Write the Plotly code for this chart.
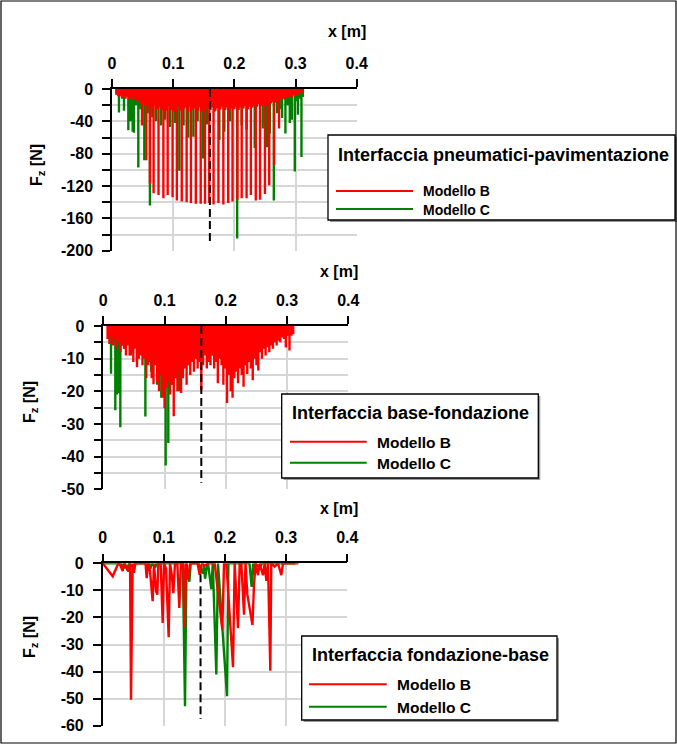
import plotly.graph_objects as go

W, H = 677, 744
FONT = "Liberation Sans, Arial, sans-serif"
RED = "#ff0000"
GREEN = "#008000"

# ---------------- data ----------------
x_ticks = [0, 0.1, 0.2, 0.3, 0.4]
x_ticktext = ["0", "0.1", "0.2", "0.3", "0.4"]

# Panel 1: Interfaccia pneumatici-pavimentazione (nodal forces, vertical spikes)
x_B1 = [0.007, 0.010, 0.013, 0.016, 0.019, 0.022, 0.025, 0.028, 0.031, 0.034, 0.037, 0.040, 0.043, 0.046,
        0.049, 0.051, 0.054, 0.056, 0.058, 0.060, 0.062, 0.064, 0.066, 0.068, 0.071, 0.073,
        0.076, 0.079, 0.081, 0.084, 0.086, 0.088, 0.091, 0.094, 0.096, 0.099, 0.101, 0.103,
        0.106, 0.109, 0.111, 0.114, 0.117, 0.119, 0.122, 0.124, 0.126, 0.129, 0.132, 0.134,
        0.137, 0.140, 0.142, 0.145, 0.147, 0.149, 0.152, 0.154, 0.157, 0.159, 0.161, 0.164,
        0.166, 0.169, 0.171, 0.174, 0.177, 0.179, 0.182, 0.185, 0.187, 0.190, 0.192, 0.195,
        0.197, 0.200, 0.202, 0.205, 0.207, 0.210, 0.212, 0.215, 0.217, 0.220, 0.222, 0.225,
        0.227, 0.230, 0.232, 0.235, 0.237, 0.240, 0.242, 0.245, 0.247, 0.250, 0.252, 0.255,
        0.257, 0.260, 0.262, 0.265, 0.267, 0.270,
        0.273, 0.276, 0.279, 0.282, 0.285, 0.288, 0.291, 0.294, 0.297, 0.300, 0.303, 0.306, 0.309, 0.312]
Fz_B1 = [-7, -9, -8, -10, -9, -12, -10, -13, -11, -14, -12, -16, -14, -18,
         -45, -17, -20, -88, -19, -22, -117, -21, -24, -129, -20, -25,
         -131, -22, -26, -135, -23, -27, -131, -21, -26, -134, -24, -28,
         -138, -22, -27, -139, -25, -23, -140, -28, -22, -141, -26, -24,
         -142, -27, -23, -142, -25, -28, -142, -24, -22, -141, -26, -23,
         -143, -27, -24, -141, -25, -22, -143, -26, -23, -141, -27, -24,
         -139, -25, -22, -137, -26, -23, -135, -24, -21, -135, -25, -22,
         -131, -23, -20, -138, -22, -19, -137, -21, -18, -130, -20, -17,
         -119, -18, -16, -94, -17, -15,
         -49, -14, -12, -13, -10, -11, -9, -10, -8, -7, -8, -6, -5, -4]
x_C1 = [0.008, 0.0114, 0.014, 0.0165, 0.0196, 0.023, 0.0267, 0.0305, 0.0338, 0.0359, 0.039, 0.043,
        0.047, 0.0528, 0.058, 0.062, 0.066, 0.072, 0.080, 0.087, 0.0947, 0.103, 0.110, 0.117,
        0.1247, 0.133, 0.140, 0.149, 0.155, 0.1676, 0.1755, 0.1836, 0.193, 0.2046, 0.212, 0.220,
        0.2333, 0.2464, 0.2534, 0.258, 0.2645, 0.270, 0.274, 0.278, 0.2835, 0.287, 0.2906, 0.294,
        0.2988, 0.302, 0.304, 0.307, 0.3097, 0.312]
Fz_C1 = [-5, -29, -8, -12, -27, -10, -51, -40, -53, -54, -20, -97,
         -25, -88, -30, -144, -35, -40, -45, -38, -47, -42, -101, -45,
         -60, -59, -40, -86, -44, -28, -63, -53, -40, -185, -45, -50,
         -73, -49, -72, -55, -138, -30, -25, -36, -55, -20, -42, -38,
         -102, -15, -32, -12, -84, -10]

# Panel 2: Interfaccia base-fondazione
x_B2 = [0.007, 0.010, 0.013, 0.016, 0.019, 0.022, 0.025, 0.028, 0.031, 0.034, 0.037, 0.040, 0.043,
        0.046, 0.049, 0.052, 0.055, 0.058, 0.061, 0.064, 0.067, 0.070, 0.073, 0.076, 0.079, 0.082,
        0.085, 0.088, 0.091, 0.094, 0.097, 0.100, 0.103, 0.106, 0.109, 0.112, 0.115, 0.118, 0.121,
        0.124, 0.127, 0.130, 0.133, 0.136, 0.139, 0.142, 0.145, 0.148, 0.151, 0.154, 0.157, 0.160,
        0.163, 0.166, 0.169, 0.172, 0.175, 0.178, 0.181, 0.184, 0.187, 0.190, 0.193, 0.196, 0.199,
        0.202, 0.205, 0.208, 0.211, 0.214, 0.217, 0.220, 0.223, 0.226, 0.229, 0.232, 0.235, 0.238,
        0.241, 0.244, 0.247, 0.250, 0.253, 0.256, 0.259, 0.262, 0.265, 0.268, 0.271, 0.274, 0.277,
        0.280, 0.283, 0.286, 0.289, 0.292, 0.295, 0.298, 0.301, 0.304, 0.307, 0.310]
Fz_B2 = [-4, -5.5, -3, -6, -4, -7, -5, -8, -6, -7, -9, -6, -9,
         -8, -11, -7, -12.6, -10, -9, -12, -10, -16, -12, -11, -16, -17.8,
         -12, -17, -20, -15, -22, -25.2, -19, -17, -21, -18, -27.6, -16, -20,
         -14, -20.5, -16, -13, -18, -12, -15, -11, -14, -10, -13, -11, -19.7,
         -12, -9, -13, -11, -12, -9, -13, -11, -17.5, -10, -12, -18, -13,
         -23.6, -15, -20, -22, -16, -14, -17.5, -13, -15, -18.6, -12, -14.7, -11,
         -13, -16.6, -10, -12, -13.6, -8, -10, -7, -9, -6.5, -8, -6, -7,
         -5, -6, -4.5, -5, -3.5, -4, -6.6, -3, -7.5, -3, -2.5]
x_C2 = [0.009, 0.0126, 0.016, 0.0196, 0.0225, 0.0245, 0.0278, 0.031, 0.035, 0.045, 0.055, 0.0687,
        0.078, 0.088, 0.0947, 0.1018, 0.1061, 0.113, 0.1236, 0.130, 0.140, 0.150, 0.165, 0.180,
        0.200, 0.220, 0.250, 0.280, 0.300]
Fz_C2 = [-3, -14.6, -5, -25.8, -21, -20.5, -31, -6, -7, -9, -11, -27.7,
         -14, -18, -22, -42.7, -35.8, -18, -20, -15, -12, -10, -8, -9,
         -12, -10, -7, -4, -3]

# Panel 3: Interfaccia fondazione-base (nodal values joined by lines)
x_B3 = [0.000, 0.0164, 0.0256, 0.0290, 0.0327, 0.0349, 0.0380, 0.0420, 0.0447, 0.0463, 0.0490,
        0.0512, 0.0534, 0.0700, 0.0719, 0.0746, 0.0770, 0.0801, 0.0817, 0.0839, 0.0872, 0.0893,
        0.0910, 0.0948, 0.0981, 0.1003, 0.1036, 0.1079, 0.1100, 0.1128, 0.1155, 0.1182, 0.1220,
        0.1253, 0.1280, 0.1318, 0.1340, 0.1362, 0.1400, 0.1428, 0.1550, 0.1586, 0.1624, 0.1668,
        0.1720, 0.1831, 0.1956, 0.1984, 0.2022, 0.2131, 0.2158, 0.2213, 0.2240, 0.2267, 0.2311,
        0.2335, 0.2365, 0.2449, 0.2474, 0.2500, 0.2540, 0.2567, 0.2621, 0.2649, 0.2676, 0.2703,
        0.2741, 0.2757, 0.2812, 0.2867, 0.2921, 0.2948, 0.3200]
Fz_B3 = [0, -4.8, 0, -0.8, -2.9, 0, -1.2, -3.0, 0, -50.4, 0,
         -3.5, 0, 0, -5.5, 0, -2.0, -8.5, -14.0, 0, -10.3, -11.6,
         0, 0, -22.0, 0, -2.0, -27.3, 0, -4.0, -11.0, 0, 0,
         -16.5, 0, 0, -23.9, 0, -6.0, 0, 0, -4.2, 0, -0.8,
         0, 0, -24.5, 0, 0, -38.4, 0, -24.0, 0, 0, -19.0,
         0, -11.5, -22.8, -8.0, 0, -4.4, 0, -4.4, 0, -6.5, 0,
         -39.7, 0, -1.2, 0, -4.4, 0, 0]
x_C3 = [0.000, 0.0300, 0.0340, 0.0365, 0.0400, 0.0430, 0.0500, 0.0530, 0.0750, 0.0780, 0.0800,
        0.0860, 0.0880, 0.1310, 0.1346, 0.1370, 0.1417, 0.1440, 0.1570, 0.1600, 0.1636, 0.1655,
        0.1674, 0.1700, 0.1722, 0.1776, 0.1800, 0.1858, 0.1885, 0.2033, 0.2055, 0.2400, 0.2436,
        0.2460, 0.2480, 0.2500, 0.2580, 0.2600, 0.3150]
Fz_C3 = [0, 0, -2.0, 0, -2.5, 0, -1.5, 0, 0, -2.0, 0,
         -1.5, 0, 0, -52.8, 0, -6.8, 0, 0, -2.0, -3.8, -1.0,
         -5.7, -1.5, 0, -9.5, 0, -41.1, 0, -49.1, 0, 0, -8.7,
         0, -4.4, 0, -2.0, 0, 0]

# centre line of the load (dashed)
x_centre = 0.16
centre_top = [0, 0, -4]
centre_bottom = [-192, -48, -57.5]

# axes ranges and ticks
y_ranges = [[-200, 0], [-50, 0], [-60, 0]]
y_tickvals = [[0, -40, -80, -120, -160, -200],
              [0, -10, -20, -30, -40, -50],
              [0, -10, -20, -30, -40, -50, -60]]
y_ticktext = [["0", "-40", "-80", "-120", "-160", "-200"],
              ["0", "-10", "-20", "-30", "-40", "-50"],
              ["0", "-10", "-20", "-30", "-40", "-50", "-60"]]
y_minor_step = [20, 5, None]

legend_titles = ["Interfaccia pneumatici-pavimentazione",
                 "Interfaccia base-fondazione",
                 "Interfaccia fondazione-base"]
series_names = ["Modello B", "Modello C"]

# ---------------- layout geometry (pixels) ----------------
panels_px = [  # left, right, top, bottom of plot area
    (112.0, 356.7, 89.0, 250.7),
    (103.3, 348.3, 326.0, 489.3),
    (102.7, 347.3, 563.3, 725.7),
]


def px_x(x):
    return x / W


def px_y(y):
    return 1 - y / H


def comb(xs, ds):
    """Nodal force spikes drawn from zero to the nodal value."""
    X, Y = [], []
    for x, d in zip(xs, ds):
        X += [x, x, x]
        Y += [0, d, 0]
    return X, Y


fig = go.Figure()

series = [
    ((x_B1, Fz_B1, True), (x_C1, Fz_C1, True)),
    ((x_B2, Fz_B2, True), (x_C2, Fz_C2, True)),
    ((x_B3, Fz_B3, False), (x_C3, Fz_C3, False)),
]

for i, (sB, sC) in enumerate(series):
    xa = "x" if i == 0 else f"x{i+1}"
    ya = "y" if i == 0 else f"y{i+1}"
    # Modello C (green) below, Modello B (red) on top
    for (xs, ds, spikes), col, name in ((sC, GREEN, series_names[1]), (sB, RED, series_names[0])):
        if spikes:
            X, Y = comb(xs, ds)
        else:
            X, Y = xs, ds
        fig.add_trace(go.Scatter(x=X, y=Y, mode="lines", name=name, showlegend=False,
                                 line=dict(color=col, width=2.4), xaxis=xa, yaxis=ya,
                                 hoverinfo="skip"))
    fig.add_trace(go.Scatter(x=[x_centre, x_centre], y=[centre_top[i], centre_bottom[i]],
                             mode="lines", showlegend=False,
                             line=dict(color="black", width=2, dash="8px,4px"),
                             xaxis=xa, yaxis=ya, hoverinfo="skip"))

tickfont = dict(family=FONT, size=16, color="black", weight="bold")
layout = dict(width=W, height=H, margin=dict(l=0, r=0, t=0, b=0, autoexpand=False),
              paper_bgcolor="white", plot_bgcolor="white", showlegend=False)

GRID = "#d6d6d6"
for i, (l, r, t, b) in enumerate(panels_px):
    xk = "xaxis" if i == 0 else f"xaxis{i+1}"
    yk = "yaxis" if i == 0 else f"yaxis{i+1}"
    ya = "y" if i == 0 else f"y{i+1}"
    xa = "x" if i == 0 else f"x{i+1}"
    layout[xk] = dict(domain=[px_x(l), px_x(r)], anchor=ya, side="top", range=[0, 0.4],
                      tickvals=x_ticks, ticktext=x_ticktext, ticks="outside", ticklen=8,
                      tickwidth=1.5, tickcolor="black", showline=True, linecolor="black",
                      linewidth=1.5, showgrid=True, gridcolor=GRID, gridwidth=1.5,
                      zeroline=False, tickfont=tickfont, ticklabelstandoff=4, fixedrange=True,
                      automargin=False)
    yd = dict(domain=[px_y(b), px_y(t)], anchor=xa, range=y_ranges[i],
              tickvals=y_tickvals[i], ticktext=y_ticktext[i], ticks="outside", ticklen=8,
              tickwidth=1.5, tickcolor="black", showline=True, linecolor="black",
              linewidth=1.5, showgrid=True, gridcolor=GRID, gridwidth=1.5,
              zeroline=False, tickfont=tickfont, ticklabelstandoff=6, fixedrange=True,
              automargin=False)
    if y_minor_step[i]:
        yd["minor"] = dict(dtick=y_minor_step[i], tick0=0, ticks="outside", ticklen=8,
                           tickwidth=1.5, tickcolor="black", showgrid=True, gridcolor=GRID,
                           gridwidth=1.5)
    layout[yk] = yd

fig.update_layout(**layout)

annotations = []
shapes = []
bold = dict(family=FONT, color="black", weight="bold")

# axis titles
xtitle_pos = [(347, 32), (338.5, 271.7), (338.5, 509)]
ytitle_pos = [(37, 165), (30, 402), (30, 637)]
for (ax_, ay_), (bx, by) in zip(xtitle_pos, ytitle_pos):
    annotations.append(dict(x=px_x(ax_), y=px_y(ay_), xref="paper", yref="paper", text="x [m]",
                            showarrow=False, xanchor="center", yanchor="middle",
                            font=dict(size=16, **bold)))
    annotations.append(dict(x=px_x(bx), y=px_y(by), xref="paper", yref="paper",
                            text="F<sub>z</sub> [N]", textangle=-90, showarrow=False,
                            xanchor="center", yanchor="middle", font=dict(size=16, **bold)))

# legend boxes (drawn by hand)
legends_px = [
    # box l, t, r, b, title x, title y, line x0, x1, y_B, y_C, text x, item font size
    (328, 135, 675, 220, 336, 155, 336, 413, 191.0, 209.0, 421.7, 14),
    (281.7, 394, 538.3, 478, 290, 413, 290, 366.7, 441.7, 462.7, 376, 15.5),
    (301.7, 636, 557, 720, 310, 655, 309, 386.7, 684.3, 706.7, 396, 15.5),
]
for k, (bl, bt, br, bb, tx, ty, lx0, lx1, yb, yc, txt, fs) in enumerate(legends_px):
    shapes.append(dict(type="rect", xref="paper", yref="paper", x0=px_x(bl + 2), x1=px_x(br + 2),
                       y0=px_y(bb + 2), y1=px_y(bt + 2), line=dict(width=0),
                       fillcolor="#9a9a9a", layer="above"))
    shapes.append(dict(type="rect", xref="paper", yref="paper", x0=px_x(bl), x1=px_x(br),
                       y0=px_y(bb), y1=px_y(bt), line=dict(color="black", width=1.3),
                       fillcolor="white", layer="above"))
    annotations.append(dict(x=px_x(tx), y=px_y(ty), xref="paper", yref="paper",
                            text=legend_titles[k], showarrow=False, xanchor="left",
                            yanchor="middle", font=dict(size=18, **bold)))
    for yy, col, nm in ((yb, RED, series_names[0]), (yc, GREEN, series_names[1])):
        shapes.append(dict(type="line", xref="paper", yref="paper", x0=px_x(lx0), x1=px_x(lx1),
                           y0=px_y(yy), y1=px_y(yy), line=dict(color=col, width=2),
                           layer="above"))
        annotations.append(dict(x=px_x(txt), y=px_y(yy + 0.5), xref="paper", yref="paper",
                                text=nm, showarrow=False, xanchor="left", yanchor="middle",
                                borderpad=0, font=dict(size=fs, **bold)))

# outer frame
shapes.append(dict(type="rect", xref="paper", yref="paper", x0=px_x(1), x1=px_x(676),
                   y0=px_y(743), y1=px_y(1), line=dict(color="black", width=1.2),
                   fillcolor="rgba(0,0,0,0)", layer="above"))

fig.update_layout(annotations=annotations, shapes=shapes)
fig.write_html("out.html", config={"displayModeBar": False},
               post_script="document.body.style.margin='0';"
                           "document.body.style.overflow='hidden';")
